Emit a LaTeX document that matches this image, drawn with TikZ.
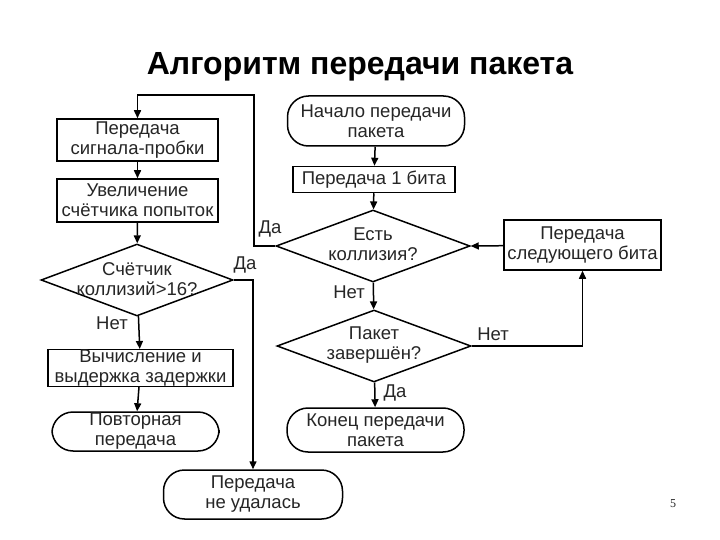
\documentclass[tikz,border=0pt]{standalone}
\usepackage{fontspec}
\setmainfont{Liberation Sans}
\newfontfamily\numfont{Liberation Serif}
\usetikzlibrary{shapes.geometric,arrows.meta}
\begin{document}
\begin{tikzpicture}[x=1pt,y=-1pt,
  every node/.style={font=\fontsize{18.5}{20}\selectfont, align=center, inner sep=0pt, text=black!85},
  box/.style={draw, line width=1.5pt, rectangle},
  term/.style={draw, line width=1.5pt, rectangle, rounded corners=21pt},
  dia/.style={draw, line width=1.5pt, diamond, minimum width=194pt, minimum height=72pt},
  arr/.style={line width=1.5pt, -{Triangle[length=8pt,width=7pt]}},
  lbl/.style={font=\fontsize{18.5}{20}\selectfont}
]
\useasboundingbox (0,0) rectangle (720,540);
\fill[white] (0,0) rectangle (720,540);
\node[font=\fontsize{32}{36}\selectfont\bfseries, text=black] (title) at (360,67) {Алгоритм передачи пакета};

% right column
\node[term, minimum width=177pt, minimum height=50pt] (start) at (376,121) {Начало передачи\\пакета};
\node[box, minimum width=162pt, minimum height=26pt] (bit1) at (374,179.5) {Передача 1 бита};
\node[dia] (coll) at (373,246) {};
\node (colltxt) at (373,244) {Есть\\коллизия?};
\node[box, minimum width=157pt, minimum height=50pt] (next) at (582.5,245) {Передача\\следующего бита};
\node[dia] (done) at (374,346) {};
\node (donetxt) at (374,345) {Пакет\\завершён?};
\node[term, minimum width=177pt, minimum height=44pt] (end) at (375.5,430) {Конец передачи\\пакета};

% left column
\node[box, minimum width=161pt, minimum height=42pt] (jam) at (137.5,140) {Передача\\сигнала-пробки};
\node[box, minimum width=161pt, minimum height=43pt] (inc) at (137.5,200.5) {Увеличение\\счётчика попыток};
\node[dia, minimum width=192pt] (cnt) at (137,280) {};
\node (cnttxt) at (137,279) {Счётчик\\коллизий>16?};
\node[box, minimum width=185pt, minimum height=36pt] (calc) at (140.5,368) {Вычисление и\\выдержка задержки};
\node[term, minimum width=167pt, minimum height=39pt] (retry) at (135.5,431.5) {Повторная\\передача};
\node[term, minimum width=179pt, minimum height=49pt] (fail) at (253,494.5) {Передача\\не удалась};

\coordinate (loop) at (254,95);

% connectors right
\draw[arr] (start) -- (bit1);
\draw[arr] (bit1) -- (coll);
\draw[arr] (next) -- (coll.east);
\draw[arr] (coll) -- (done);
\draw[arr] (done) -- (end);
\draw[arr] (done.east) -| (next.south);
\draw[arr] (coll.west) -| (loop) -| (jam.north);

% connectors left
\draw[arr] (jam) -- (inc);
\draw[arr] (inc) -- (cnt);
\draw[arr] (cnt) -- (calc);
\draw[arr] (calc) -- (retry);
\draw[arr] (cnt.east) -| (fail.north);

% labels
\node[lbl] (l1) at (270,229) {Да};
\node[lbl] (l2) at (245,265) {Да};
\node[lbl] (l3) at (112,323) {Нет};
\node[lbl] (l4) at (349,292) {Нет};
\node[lbl] (l5) at (493,334) {Нет};
\node[lbl] (l6) at (395,393) {Да};
\node[font=\numfont\fontsize{12}{14}\selectfont] (page) at (673,504) {5};
\end{tikzpicture}
\end{document}
